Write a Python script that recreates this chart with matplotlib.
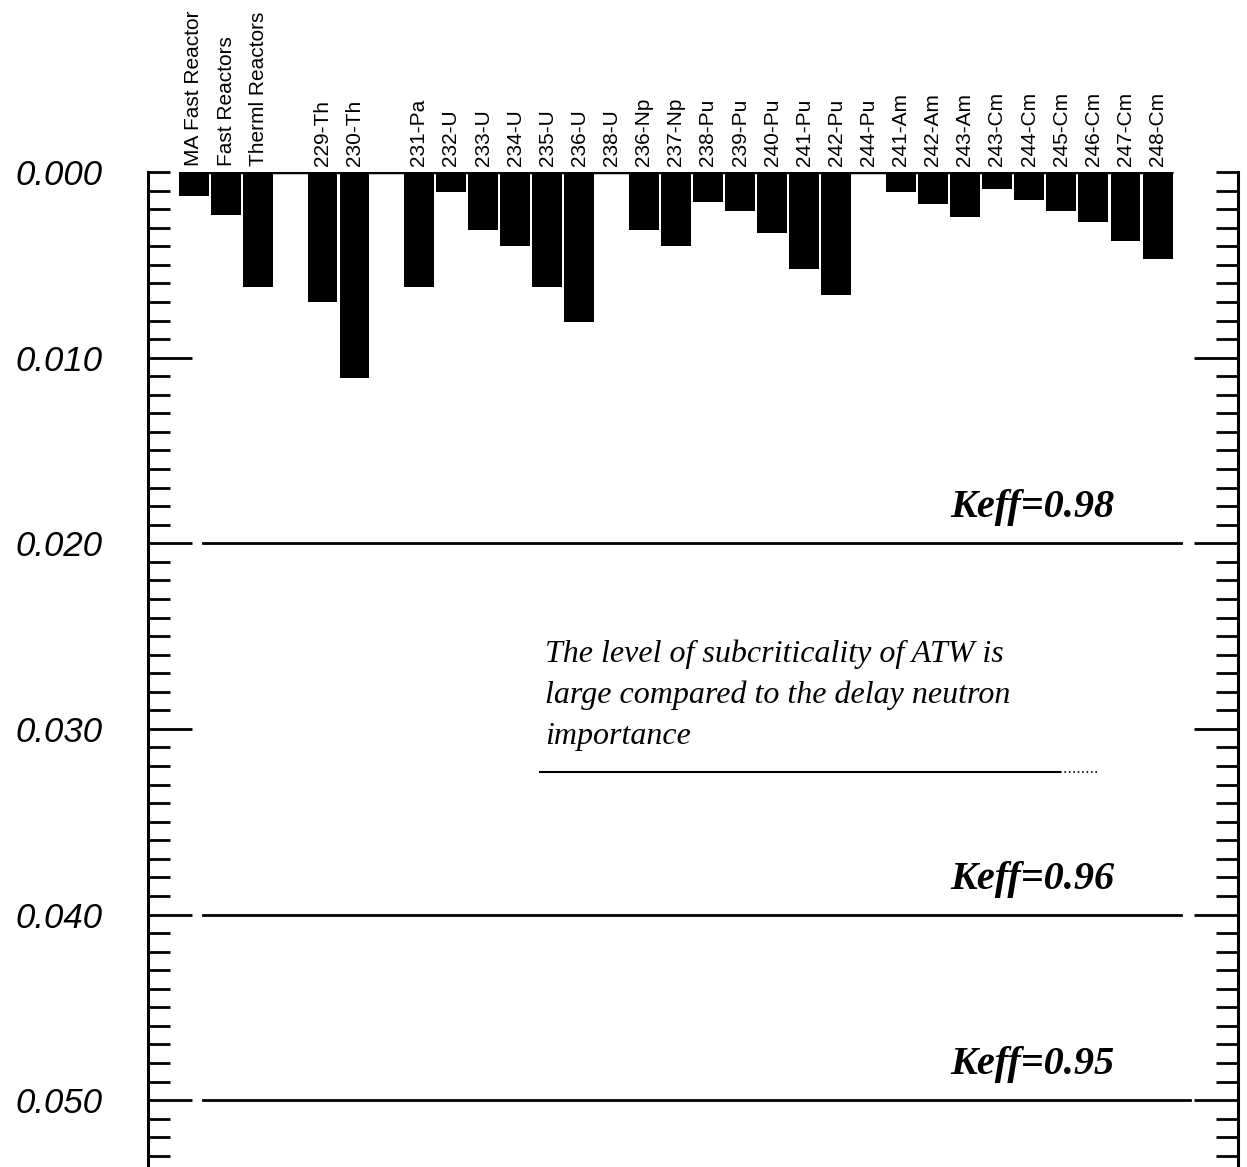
import matplotlib.pyplot as plt
import numpy as np

# categories ('' = empty slot in the original layout)
labels = ['MA Fast Reactor', 'Fast Reactors', 'Therml Reactors', '',
          '229-Th', '230-Th', '',
          '231-Pa', '232-U', '233-U', '234-U', '235-U', '236-U', '238-U',
          '236-Np', '237-Np',
          '238-Pu', '239-Pu', '240-Pu', '241-Pu', '242-Pu', '244-Pu',
          '241-Am', '242-Am', '243-Am',
          '243-Cm', '244-Cm', '245-Cm', '246-Cm', '247-Cm', '248-Cm']
values = [0.0013, 0.0023, 0.0062, 0.0,
          0.0070, 0.0111, 0.0,
          0.0062, 0.0011, 0.0031, 0.0040, 0.0062, 0.0081, 0.0,
          0.0031, 0.0040,
          0.0016, 0.0021, 0.0033, 0.0052, 0.0066, 0.0,
          0.0011, 0.0017, 0.0024,
          0.0009, 0.0015, 0.0021, 0.0027, 0.0037, 0.0047]

keff_levels = [0.020, 0.040, 0.050]
keff_labels = ['Keff=0.98', 'Keff=0.96', 'Keff=0.95']
ytick_vals = [0.000, 0.010, 0.020, 0.030, 0.040, 0.050]
note = ['The level of subcriticality of ATW is',
        'large compared to the delay neutron',
        'importance']

fig = plt.figure(figsize=(12.47, 11.67), dpi=100)
ax = fig.add_axes([0.1187, 0.0, 0.874, 0.8526])

x = np.arange(len(labels))
ax.bar(x, values, width=0.93, color='black')
ax.hlines(0, -0.47, len(labels) - 0.53, color='black', lw=2.5)

ax.set_xlim(-1.43, 32.5)
ax.set_ylim(0.0536, 0)

# category labels on top
ax.xaxis.set_ticks_position('top')
ax.set_xticks(x)
ax.set_xticklabels(labels, rotation=90, fontsize=15, family='Liberation Sans',
                   va='bottom', ha='center')
ax.tick_params(axis='x', length=0, pad=4)

# y ticks on both sides, inward
ax.set_yticks(ytick_vals)
ax.set_yticklabels([f'{v:.3f}' for v in ytick_vals], fontsize=25,
                   family='Liberation Sans', style='italic')
ax.set_yticks(np.arange(0, 0.0536, 0.001), minor=True)
ax.tick_params(axis='y', which='major', direction='in', length=32, width=2,
               left=True, right=True, pad=33)
ax.tick_params(axis='y', which='minor', direction='in', length=16, width=2,
               left=True, right=True)
ax.yaxis.get_major_ticks()[0].tick1line.set_markersize(16)
ax.yaxis.get_major_ticks()[0].tick2line.set_markersize(16)

for side in ['top', 'bottom']:
    ax.spines[side].set_visible(False)
for side in ['left', 'right']:
    ax.spines[side].set_linewidth(2.2)

# Keff reference lines
for lev, lab in zip(keff_levels, keff_labels):
    ax.axhline(lev, xmin=0.05, xmax=0.948 if lev < 0.05 else 0.956,
               color='black', lw=2)
    ax.text(0.887, lev - 0.0014, lab, transform=ax.get_yaxis_transform(),
            ha='right', va='baseline', fontsize=29, family='Liberation Serif',
            style='italic', weight='bold')

# note
for i, line in enumerate(note):
    ax.text(0.364, 0.0264 + i * 0.0022, line, transform=ax.get_yaxis_transform(),
            ha='left', va='baseline', fontsize=23, family='Liberation Serif',
            style='italic')
ax.axhline(0.0323, xmin=0.36, xmax=0.837, color='black', lw=1.5)
ax.axhline(0.0323, xmin=0.837, xmax=0.873, color='black', lw=1.2, ls=':')

fig.savefig('out.png', dpi=100)
